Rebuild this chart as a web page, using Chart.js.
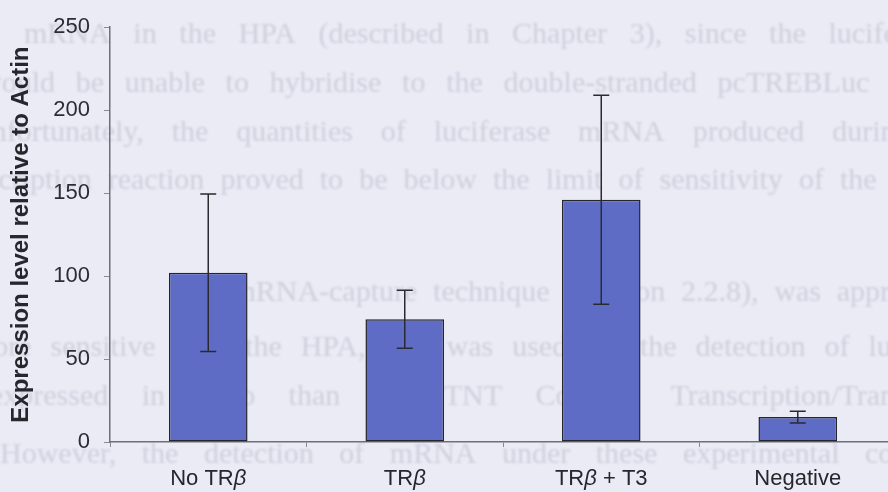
<!DOCTYPE html>
<html lang="en">
<head>
<meta charset="UTF-8">
<title>Expression level relative to Actin</title>
<script src="https://cdn.jsdelivr.net/npm/chart.js"></script>
<style>
  html, body { margin: 0; padding: 0; overflow: hidden; background: #ebebf6; }
  .wrap { width: 896px; height: 492px; }
</style>
</head>
<body>
<div class="wrap"><canvas id="exprChart"></canvas></div>
<script>
const categories = ['No TRβ', 'TRβ', 'TRβ + T3', 'Negative'];
const expression = [102, 74, 146, 15];
const errors = [47.5, 17.5, 63, 3.5];
const yTicks = [0, 50, 100, 150, 200, 250];

// faint text from the other side of the sheet: [text, x start, x end, baseline]
const backText = [
    ['mRNA in the HPA (described in Chapter 3), since the luciferase', 24, 945, 43],
    ['would be unable to hybridise to the double-stranded pcTREBLuc plasmid', -20, 985, 92],
    ['Unfortunately, the quantities of luciferase mRNA produced during the', -30, 975, 141],
    ['transcription reaction proved to be below the limit of sensitivity of the HPA', -60, 950, 189],
    ['The mRNA-capture technique (Section 2.2.8), was approximately', 170, 1010, 301],
    ['more sensitive than the HPA, and was used for the detection of luciferase', -30, 985, 356],
    ['expressed in vitro than the TNT Coupled Transcription/Translation', -10, 975, 405],
    ['However, the detection of mRNA under these experimental conditions', 0, 990, 463]
];

const sans = '"Liberation Sans", Arial, sans-serif';

function drawJustified(ctx, text, x0, x1, y) {
    const words = text.split(' ');
    const widths = words.map(w => ctx.measureText(w).width);
    const total = widths.reduce((a, b) => a + b, 0);
    const gap = (x1 - x0 - total) / (words.length - 1);
    let x = x0;
    words.forEach((w, i) => {
        ctx.fillText(w, x, y);
        x += widths[i] + gap;
    });
}

const pagePlugin = {
    id: 'page',
    beforeDraw(chart) {
        const ctx = chart.ctx;
        ctx.save();
        ctx.fillStyle = '#ebebf6';
        ctx.fillRect(0, 0, chart.width, chart.height);
        ctx.filter = 'blur(1.2px)';
        ctx.font = '30px "Liberation Serif", serif';
        ctx.fillStyle = 'rgba(100, 100, 125, 0.2)';
        ctx.textBaseline = 'alphabetic';
        backText.forEach(l => drawJustified(ctx, l[0], l[1], l[2], l[3]));
        ctx.restore();
    }
};

const errorBarPlugin = {
    id: 'errorBars',
    afterDatasetsDraw(chart) {
        const ctx = chart.ctx;
        const yScale = chart.scales.y;
        const meta = chart.getDatasetMeta(0);
        ctx.save();
        ctx.strokeStyle = '#2a2a30';
        ctx.lineWidth = 1.5;
        meta.data.forEach((bar, i) => {
            const top = yScale.getPixelForValue(expression[i] + errors[i]);
            const bottom = yScale.getPixelForValue(expression[i] - errors[i]);
            ctx.beginPath();
            ctx.moveTo(bar.x, top);
            ctx.lineTo(bar.x, bottom);
            ctx.moveTo(bar.x - 8, top);
            ctx.lineTo(bar.x + 8, top);
            ctx.moveTo(bar.x - 8, bottom);
            ctx.lineTo(bar.x + 8, bottom);
            ctx.stroke();
        });
        ctx.restore();
    }
};

// category labels, with the beta set in italic
const xLabelPlugin = {
    id: 'xLabels',
    afterDraw(chart) {
        const ctx = chart.ctx;
        const xScale = chart.scales.x;
        const normal = '22px ' + sans;
        const italic = 'italic 22px ' + sans;
        ctx.save();
        ctx.fillStyle = '#26262c';
        ctx.textBaseline = 'alphabetic';
        categories.forEach((label, i) => {
            const parts = label.split(/(β)/).filter(p => p !== '');
            const widths = parts.map(p => {
                ctx.font = p === 'β' ? italic : normal;
                return ctx.measureText(p).width;
            });
            const total = widths.reduce((a, b) => a + b, 0);
            let x = xScale.getPixelForValue(i) - total / 2;
            parts.forEach((p, k) => {
                ctx.font = p === 'β' ? italic : normal;
                ctx.fillText(p, x, xScale.top + 43);
                x += widths[k];
            });
        });
        ctx.restore();
    }
};

new Chart(document.getElementById('exprChart'), {
    type: 'bar',
    data: {
        labels: categories,
        datasets: [{
            data: expression,
            backgroundColor: '#5e6cc6',
            borderColor: '#25252c',
            borderWidth: 1.5,
            borderSkipped: false,
            categoryPercentage: 1,
            barPercentage: 0.4
        }]
    },
    options: {
        responsive: true,
        maintainAspectRatio: false,
        animation: false,
        layout: { padding: { top: 22, right: 0, bottom: 0, left: 0 } },
        plugins: {
            legend: { display: false },
            tooltip: { enabled: false }
        },
        scales: {
            x: {
                afterFit(scale) { scale.height = 50; },
                grid: { drawOnChartArea: false, tickLength: 5, color: '#8a8a92' },
                border: { color: '#6f6f78', width: 1.5 },
                ticks: { display: false }
            },
            y: {
                min: yTicks[0],
                max: yTicks[yTicks.length - 1],
                afterFit(scale) { scale.width = 110; },
                afterBuildTicks(scale) { scale.ticks = yTicks.map(v => ({ value: v })); },
                grid: { drawOnChartArea: false, tickLength: 6, color: '#8a8a92' },
                border: { color: '#6f6f78', width: 1.5 },
                ticks: {
                    padding: 14,
                    color: '#2c2c32',
                    font: { family: sans, size: 22 }
                },
                title: {
                    display: true,
                    text: 'Expression level relative to Actin',
                    color: '#26262c',
                    font: { family: sans, size: 24, weight: 'bold' },
                    padding: { top: 7, bottom: 0 }
                }
            }
        }
    },
    plugins: [pagePlugin, errorBarPlugin, xLabelPlugin]
});
</script>
</body>
</html>
